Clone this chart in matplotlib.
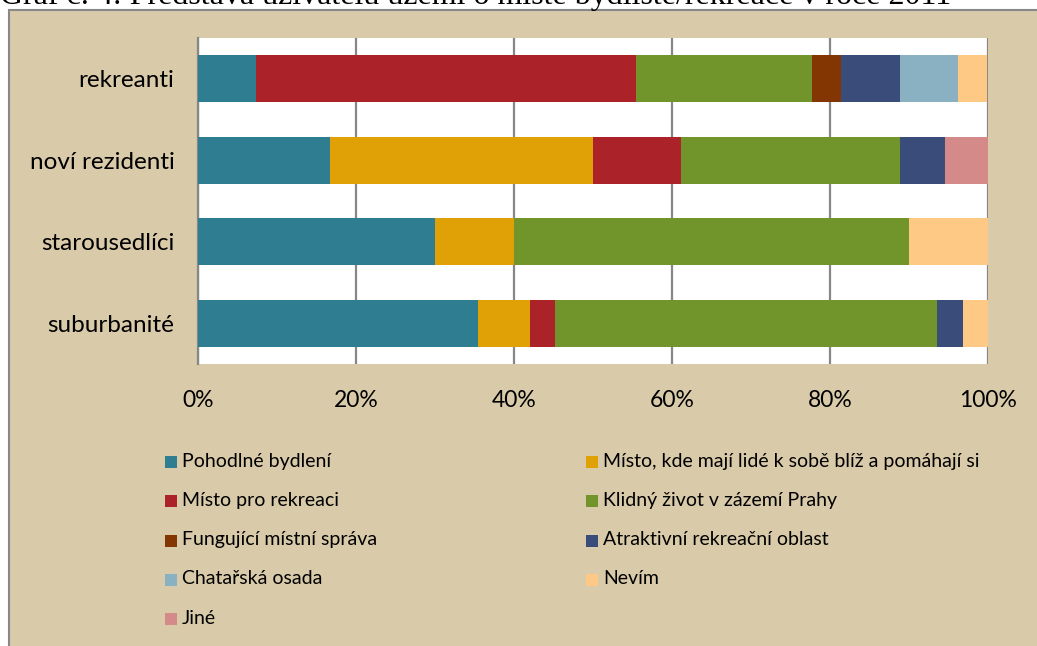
import numpy as np
import matplotlib
matplotlib.use("Agg")
import matplotlib.pyplot as plt
from matplotlib.patches import Rectangle

# categories (top to bottom as shown)
groups = ["rekreanti", "noví rezidenti", "starousedlíci", "suburbanité"]

answers = ["Pohodlné bydlení",
           "Místo, kde mají lidé k sobě blíž a pomáhají si",
           "Místo pro rekreaci",
           "Klidný život v zázemí Prahy",
           "Fungující místní správa",
           "Atraktivní rekreační oblast",
           "Chatařská osada",
           "Nevím",
           "Jiné"]

# shares in % per group (same order as groups)
pohodlne = [7.4, 16.7, 30.0, 35.5]
blize = [0.0, 33.3, 10.0, 6.5]
rekreace = [48.1, 11.1, 0.0, 3.2]
klidny = [22.2, 27.8, 50.0, 48.4]
sprava = [3.7, 0.0, 0.0, 0.0]
atraktivni = [7.4, 5.6, 0.0, 3.2]
chatarska = [7.4, 0.0, 0.0, 0.0]
nevim = [3.7, 0.0, 10.0, 3.2]
jine = [0.0, 5.6, 0.0, 0.0]

series = [pohodlne, blize, rekreace, klidny, sprava, atraktivni, chatarska, nevim, jine]
colors = ["#2E7D90", "#E0A106", "#AB2328", "#72952B", "#833502",
          "#3A4D7A", "#8AB1C1", "#FDC985", "#D38A89"]

x_ticks = [0, 20, 40, 60, 80, 100]
tick_labels = ["0%", "20%", "40%", "60%", "80%", "100%"]

W, H = 1037, 646
fig = plt.figure(figsize=(W / 100, H / 100), dpi=100)
fig.patch.set_facecolor("white")

# beige chart area with grey frame
beige = "#D9CAA9"
fig.patches.append(Rectangle((9 / W, -0.01), 1.01 - 9 / W, (H - 10) / H + 0.01,
                             transform=fig.transFigure, facecolor=beige,
                             edgecolor="#888888", linewidth=1.5, zorder=0))

# cut-off caption at the very top
fig.text(0.0, 1 - 4 / H, "Graf č. 4: Představa uživatelů území o místě bydliště/rekreace v roce 2011",
         family="Liberation Serif", fontsize=23, ha="left", va="baseline")

ax = fig.add_axes([198 / W, (H - 364) / H, (988 - 198) / W, (364 - 38) / H])
ax.set_zorder(5)
ax.set_facecolor("white")

ypos = np.arange(len(groups))[::-1]
left = np.zeros(len(groups))
for vals, col, lab in zip(series, colors, answers):
    vals = np.array(vals)
    ax.barh(ypos, vals, left=left, height=0.58, color=col, label=lab, zorder=3)
    left += vals

ax.set_xlim(0, 100)
ax.set_ylim(-0.5, 3.5)
ax.set_xticks(x_ticks)
ax.set_xticklabels(tick_labels)
ax.set_yticks(ypos)
ax.set_yticklabels(groups)
ax.grid(axis="x", color="#878787", linewidth=1.6, zorder=1)
ax.tick_params(length=0, colors="black")
ax.tick_params(axis="y", pad=17, labelsize=17.5)
ax.tick_params(axis="x", pad=19, labelsize=16.5)
for lbl in ax.get_xticklabels() + ax.get_yticklabels():
    lbl.set_family("Lato")
for s in ["top", "right", "bottom"]:
    ax.spines[s].set_visible(False)
ax.spines["left"].set_color("#878787")
ax.spines["left"].set_linewidth(1.6)

# legend, two columns filled row by row
col_x = [165, 586]
row_y0, row_dy = 461, 39.3
for i, (lab, col) in enumerate(zip(answers, colors)):
    cx = col_x[i % 2]
    cy = row_y0 + (i // 2) * row_dy
    fig.patches.append(Rectangle((cx / W, 1 - (cy + 7) / H), 12 / W, 12 / H,
                                 transform=fig.transFigure, facecolor=col,
                                 edgecolor="none", zorder=2))
    fig.text((cx + 17) / W, 1 - cy / H, lab, family="Lato", fontsize=14,
             ha="left", va="center")

fig.savefig("out.png", dpi=100, facecolor=fig.get_facecolor())
